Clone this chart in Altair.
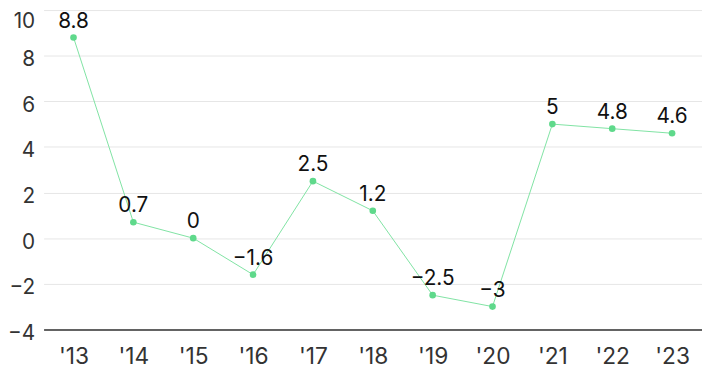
import altair as alt
import pandas as pd

years = ["'13", "'14", "'15", "'16", "'17", "'18", "'19", "'20", "'21", "'22", "'23"]
values = [8.8, 0.7, 0.0, -1.6, 2.5, 1.2, -2.5, -3.0, 5.0, 4.8, 4.6]
labels = ["8.8", "0.7", "0", "\u22121.6", "2.5", "1.2", "\u22122.5", "\u22123", "5", "4.8", "4.6"]
y_ticks = [-4, -2, 0, 2, 4, 6, 8, 10]

df = pd.DataFrame({"year": years, "value": values, "label": labels})

FONT = "Inter"

x = alt.X("year:N", sort=years, title=None,
          scale=alt.Scale(paddingInner=0, paddingOuter=0.5),
          axis=alt.Axis(labelAngle=0, ticks=False, domain=True, domainColor="#333333",
                        domainWidth=1.5, labelFontSize=23, labelColor="#333333",
                        labelFont=FONT, labelPadding=16, labelBaseline="top", grid=False))
y = alt.Y("value:Q", title=None,
          scale=alt.Scale(domain=[-4, 10], nice=False, zero=False),
          axis=alt.Axis(values=y_ticks, ticks=False, domain=False,
                        gridColor="#e6e6e6", gridWidth=1, labelFontSize=21,
                        labelColor="#333333", labelFont=FONT, labelPadding=9,
                        labelBaseline={"condition": {"test": "datum.value == 10", "value": "top"}, "value": "middle"},
                        labelOffset={"condition": {"test": "datum.value == 10", "value": 1}, "value": 4},
                        labelExpr="replace(datum.label, '-', '\u2212')"))

line = alt.Chart(df).mark_line(color="#7fe3a3", strokeWidth=1).encode(x=x, y=y)
pts = alt.Chart(df).mark_point(filled=True, size=45, color="#5fd98b", opacity=1).encode(x=x, y=y)
txt = alt.Chart(df).mark_text(fontSize=21, font=FONT, color="#111111", baseline="alphabetic",
                              dy=-10).encode(x=x, y=y, text="label:N")

chart = (line + pts + txt).properties(
    width=666, height=323,
    autosize=alt.AutoSizeParams(type="none"),
    padding={"left": 36, "top": 0, "right": 0, "bottom": 42},
).configure_view(stroke=None)

chart.save("out.html", embed_options={"renderer": "svg", "actions": False})
